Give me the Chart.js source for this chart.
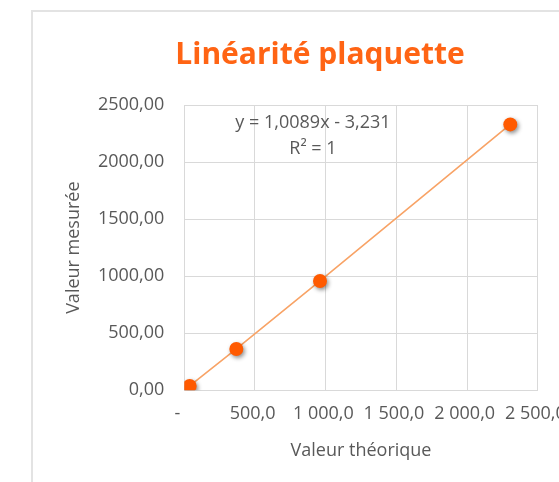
<!DOCTYPE html>
<html>
<head>
<meta charset="utf-8">
<script src="https://cdn.jsdelivr.net/npm/chart.js@4/dist/chart.umd.min.js"></script>
<style>
  html, body { margin: 0; padding: 0; background: #fff; overflow: hidden; }
  #cadre {
    position: absolute; left: 31px; top: 10px;
    width: 574px; height: 471px;
    border-left: 2px solid #e3e3e3; border-top: 2px solid #e3e3e3;
  }
</style>
</head>
<body>
<div id="cadre"><canvas id="graphe" width="574" height="471"></canvas></div>
<script>
// valeurs
var valeurTheorique = [38, 368, 960, 2306];
var valeurMesuree = [38, 362, 958, 2330];
// format comptable : espaces en fin d'etiquette
var etiquettesX = ['-\u00a0\u00a0\u00a0', '500,0\u00a0', '1 000,0\u00a0', '1 500,0\u00a0', '2 000,0\u00a0', '2 500,0\u00a0'];
var etiquettesY = ['0,00', '500,00', '1000,00', '1500,00', '2000,00', '2500,00'];
var equation = ['y = 1,0089x - 3,231', 'R\u00b2 = 1'];

var orangeFonce = '#ff5a00';
var orangeClair = '#f8a366';
var gris = '#595959';
var grille = '#d9d9d9';
var police = 'Open Sans';

var points = valeurTheorique.map(function (x, i) { return { x: x, y: valeurMesuree[i] }; });

// ombre sous les points
var ombre = {
  id: 'ombre',
  beforeDatasetDraw: function (chart, args) {
    if (args.index !== 0) return;
    var ctx = chart.ctx;
    ctx.save();
    ctx.shadowColor = 'rgba(0,0,0,0.45)';
    ctx.shadowBlur = 4;
    ctx.shadowOffsetX = 1.5;
    ctx.shadowOffsetY = 2;
  },
  afterDatasetDraw: function (chart, args) {
    if (args.index === 0) chart.ctx.restore();
  }
};

// equation de la courbe de tendance
var texteEquation = {
  id: 'texteEquation',
  afterDraw: function (chart) {
    var ctx = chart.ctx;
    var sx = chart.scales.x, sy = chart.scales.y;
    ctx.save();
    ctx.font = '18px "' + police + '"';
    ctx.fillStyle = gris;
    ctx.textAlign = 'center';
    ctx.textBaseline = 'middle';
    ctx.fillText(equation[0], sx.getPixelForValue(910), sy.getPixelForValue(2345));
    ctx.fillText(equation[1], sx.getPixelForValue(910), sy.getPixelForValue(2114));
    ctx.restore();
  }
};

new Chart(document.getElementById('graphe'), {
  type: 'scatter',
  data: {
    datasets: [{
      label: 'Points',
      data: points,
      pointRadius: 7,
      pointHoverRadius: 7,
      pointBackgroundColor: orangeFonce,
      pointBorderColor: orangeFonce,
      pointBorderWidth: 0,
      showLine: false
    }, {
      label: 'Tendance',
      data: points,
      showLine: true,
      borderColor: orangeClair,
      borderWidth: 1.6,
      pointRadius: 0
    }]
  },
  options: {
    responsive: false,
    animation: false,
    layout: { padding: 0 },
    plugins: {
      legend: { display: false },
      tooltip: { enabled: false },
      title: {
        display: true,
        text: 'Linéarité plaquette',
        color: '#ff6414',
        font: { family: police, size: 30, weight: 'bold' },
        padding: { top: 25, bottom: 32 }
      }
    },
    scales: {
      x: {
        type: 'linear', min: 0, max: 2500,
        ticks: {
          stepSize: 500, color: gris, padding: 13,
          font: { family: police, size: 18 },
          maxRotation: 0, autoSkip: false,
          callback: function (v) { return etiquettesX[Math.round(v / 500)]; }
        },
        grid: { color: grille, drawTicks: false },
        border: { color: grille },
        title: {
          display: true, text: 'Valeur théorique', color: gris,
          font: { family: police, size: 18 }, padding: { bottom: 21 }
        },
        afterFit: function (s) { s.height = 92.7; s.paddingRight = 0; }
      },
      y: {
        type: 'linear', min: 0, max: 2500,
        ticks: {
          stepSize: 500, color: gris, padding: 20,
          font: { family: police, size: 18 },
          callback: function (v) { return etiquettesY[Math.round(v / 500)]; }
        },
        grid: { color: grille, drawTicks: false },
        border: { color: grille },
        title: {
          display: true, text: 'Valeur mesurée', color: gris,
          font: { family: police, size: 18 }, padding: { top: 30 }
        },
        afterFit: function (s) { s.width = 151.3; }
      },
      droite: {
        type: 'linear', position: 'right', display: true,
        ticks: { display: false },
        grid: { display: false },
        border: { display: false },
        afterFit: function (s) { s.width = 69.3; }
      }
    }
  },
  plugins: [ombre, texteEquation]
});
</script>
</body>
</html>
